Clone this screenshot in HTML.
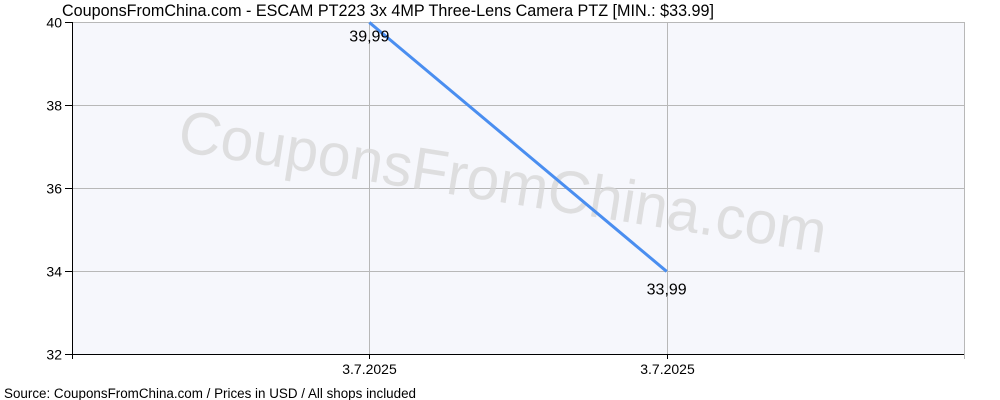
<!DOCTYPE html>
<html><head><meta charset="utf-8"><style>
body{margin:0;background:#fff;}
svg{display:block;font-family:"Liberation Sans",Arial,sans-serif;}
</style></head><body>
<svg id="c" width="1000" height="400">
<rect x="0" y="0" width="1000" height="400" fill="#fff"/>
<text x="62" y="16" font-size="16.2" textLength="652" lengthAdjust="spacingAndGlyphs" fill="#000">CouponsFromChina.com - ESCAM PT223 3x 4MP Three-Lens Camera PTZ [MIN.: $33.99]</text>
<rect x="72" y="22" width="892" height="332" fill="#f6f7fc"/>
<g id="grid"></g>
<text x="500" y="202" font-size="60" textLength="655" lengthAdjust="spacingAndGlyphs" fill="#d6d6d6" fill-opacity="0.75" text-anchor="middle" transform="rotate(9 500 200)">CouponsFromChina.com</text>
<g id="marks"></g>
<text x="4" y="398" font-size="13.5" textLength="412" lengthAdjust="spacingAndGlyphs" fill="#000">Source: CouponsFromChina.com / Prices in USD / All shops included</text>
</svg>
<script>
const categories=["","3.7.2025","3.7.2025"];
const prices=[null,39.99,33.99];
const priceLabels=["","39,99","33,99"];
const yTicks=[32,34,36,38,40];
const NS="http://www.w3.org/2000/svg";
const L=72,R=964,T=22,B=354,ymin=32,ymax=40;
const xs=i=>L+i*(R-L)/3;
const ys=v=>B-(v-ymin)*(B-T)/(ymax-ymin);
function mk(tag,attrs,parent){const e=document.createElementNS(NS,tag);for(const k in attrs)e.setAttribute(k,attrs[k]);parent.appendChild(e);return e;}
const g=document.getElementById('grid'),m=document.getElementById('marks');
yTicks.forEach(v=>{
 const y=Math.round(ys(v))+0.5;
 const gl=mk('line',{x1:L,x2:R,y1:y,y2:y,stroke:'#b8b8b8','stroke-width':1},g);
 
 
 const tk=mk('line',{x1:L-7,x2:L,y1:y,y2:y,stroke:'#000'},g);
 
 
 const t=mk('text',{x:L-10,y:y+5,'font-size':14,'text-anchor':'end'},g);
 t.textContent=v;
 
 
});
categories.forEach((c,i)=>{
 const x=Math.round(xs(i))+0.5;
 if(i>0){
  const gl=mk('line',{x1:x,x2:x,y1:T,y2:B,stroke:'#b8b8b8'},g);
  
  
 }
 const tk=mk('line',{x1:x,x2:x,y1:B,y2:B+5,stroke:'#000'},g);
 
 
 if(c){const t=mk('text',{x:x,y:B+20,'font-size':14,'text-anchor':'middle'},g);
 t.textContent=c;
 
 }
});
const rb=mk('line',{x1:R+0.5,x2:R+0.5,y1:T,y2:B+5,stroke:'#b8b8b8'},g);


const ya=mk('line',{x1:L+0.5,x2:L+0.5,y1:T,y2:B+5,stroke:'#000'},g);


const xa=mk('line',{x1:L,x2:R,y1:B+0.5,y2:B+0.5,stroke:'#000'},g);


const pts=prices.map((p,i)=>p==null?null:[xs(i),ys(p)]).filter(Boolean);
const line=mk('polyline',{points:pts.map(p=>p.join(',')).join(' '),fill:'none',stroke:'#4a8ef0','stroke-width':3},m);


prices.forEach((p,i)=>{
 if(p==null)return;
 const t=mk('text',{x:xs(i),y:ys(p)+(i===1?19:23),'font-size':16,'text-anchor':'middle'},m);
 t.textContent=priceLabels[i];
 
 
});
</script>
</body></html>
